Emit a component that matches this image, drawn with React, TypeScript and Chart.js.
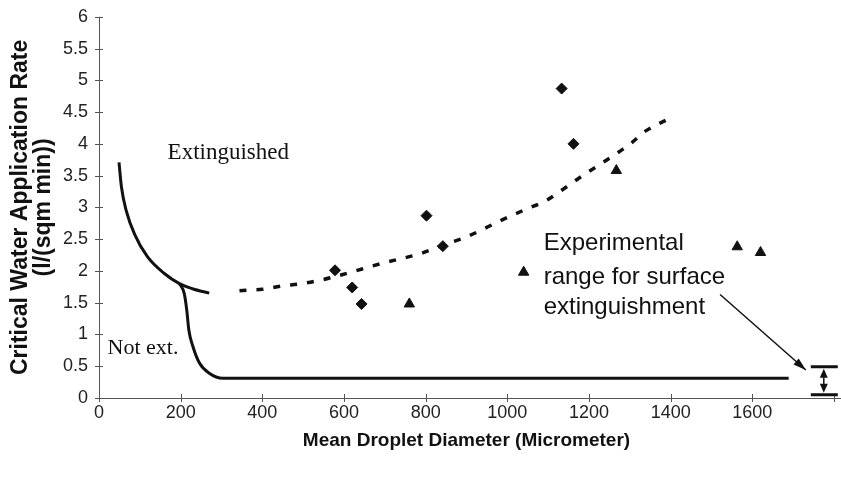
import React, { useEffect, useRef } from "react";
import { Chart, registerables } from "chart.js";

Chart.register(...registerables);

// Measured diamonds (extinguished)
const diamondX = [578, 620, 643, 802, 842, 1133, 1162];
const diamondY = [2.01, 1.74, 1.48, 2.87, 2.39, 4.87, 4.0];

// Measured triangles
const triangleX = [760, 1040, 1267, 1563, 1620];
const triangleY = [1.48, 1.98, 3.58, 2.38, 2.29];

// Upper solid boundary curve
const upperX = [49, 55, 67, 87, 119, 160, 197, 229, 270];
const upperY = [3.71, 3.32, 2.94, 2.58, 2.22, 1.96, 1.8, 1.72, 1.65];

// Lower solid boundary curve
const lowerX = [197, 209, 215, 220, 230, 246, 270, 303, 1000, 1689];
const lowerY = [1.8, 1.64, 1.38, 1.07, 0.81, 0.55, 0.39, 0.31, 0.31, 0.31];

// Dashed fit curve
const dashX = [344, 400, 446, 497, 546, 595, 693, 791, 839, 898, 986, 1045, 1093, 1142, 1191, 1235, 1277, 1303, 1338, 1394];
const dashY = [1.69, 1.71, 1.76, 1.8, 1.86, 1.94, 2.12, 2.28, 2.4, 2.53, 2.8, 2.97, 3.1, 3.31, 3.53, 3.71, 3.89, 4.01, 4.2, 4.39];

// Axis ticks
const xTicks = [0, 200, 400, 600, 800, 1000, 1200, 1400, 1600, 1800];
const yTicks = [0, 0.5, 1, 1.5, 2, 2.5, 3, 3.5, 4, 4.5, 5, 5.5, 6];

// Experimental range bar
const rangeX = 1775;
const rangeLow = 0.05;
const rangeHigh = 0.49;

const toPts = (xs: number[], ys: number[]) => xs.map((x, i) => ({ x, y: ys[i] }));

const SANS = "'Liberation Sans', Arial, sans-serif";
const SERIF = "'Liberation Serif', 'Times New Roman', serif";

const overlayPlugin = {
  id: "overlay",
  afterDraw(chart: any) {
    const { ctx, scales } = chart;
    const xs = scales.x;
    const ys = scales.y;
    const px = (v: number) => xs.getPixelForValue(v);
    const py = (v: number) => ys.getPixelForValue(v);
    ctx.save();
    // axes
    ctx.strokeStyle = "#555";
    ctx.lineWidth = 1;
    ctx.beginPath();
    ctx.moveTo(px(0), py(0) + 0.5);
    ctx.lineTo(chart.width, py(0) + 0.5);
    ctx.moveTo(px(0) + 0.5, py(0));
    ctx.lineTo(px(0) + 0.5, py(6));
    xTicks.forEach((t) => {
      const x = Math.round(px(t)) + 0.5;
      ctx.moveTo(x, py(0) - 4);
      ctx.lineTo(x, py(0) + 4);
    });
    yTicks.forEach((t) => {
      const y = Math.round(py(t)) + 0.5;
      ctx.moveTo(px(0) - 4, y);
      ctx.lineTo(px(0) + 4, y);
    });
    ctx.stroke();

    // text labels
    ctx.fillStyle = "#111";
    ctx.textBaseline = "middle";
    ctx.textAlign = "left";
    ctx.font = `23px ${SERIF}`;
    ctx.fillText("Extinguished", px(168), py(3.86));
    ctx.font = `22px ${SERIF}`;
    ctx.fillText("Not ext.", px(21), py(0.79));
    ctx.font = `24px ${SANS}`;
    ctx.fillText("Experimental", px(1089), py(2.43));
    ctx.fillText("range for surface", px(1089), py(1.9));
    ctx.fillText("extinguishment", px(1089), py(1.42));

    // arrow to range
    ctx.strokeStyle = "#111";
    ctx.lineWidth = 1.5;
    const ax0 = px(1521), ay0 = py(1.63), ax1 = px(1731), ay1 = py(0.44);
    ctx.beginPath();
    ctx.moveTo(ax0, ay0);
    ctx.lineTo(ax1, ay1);
    ctx.stroke();
    const ang = Math.atan2(ay1 - ay0, ax1 - ax0);
    const drawHead = (x: number, y: number, a: number, len: number, w: number) => {
      ctx.beginPath();
      ctx.moveTo(x, y);
      ctx.lineTo(x - len * Math.cos(a) + w * Math.sin(a), y - len * Math.sin(a) - w * Math.cos(a));
      ctx.lineTo(x - len * Math.cos(a) - w * Math.sin(a), y - len * Math.sin(a) + w * Math.cos(a));
      ctx.closePath();
      ctx.fill();
    };
    drawHead(ax1, ay1, ang, 13, 4);

    // range bar
    const rx = px(rangeX);
    const yt = py(rangeHigh), yb = py(rangeLow);
    ctx.lineWidth = 3;
    ctx.beginPath();
    ctx.moveTo(rx - 13, yt);
    ctx.lineTo(rx + 14, yt);
    ctx.moveTo(rx - 13, yb);
    ctx.lineTo(rx + 14, yb);
    ctx.stroke();
    ctx.lineWidth = 1.5;
    ctx.beginPath();
    ctx.moveTo(rx, yt + 8);
    ctx.lineTo(rx, yb - 8);
    ctx.stroke();
    drawHead(rx, yt + 2, -Math.PI / 2, 9, 4);
    drawHead(rx, yb - 2, Math.PI / 2, 9, 4);
    ctx.restore();
  },
};

export default function App() {
  const ref = useRef<HTMLCanvasElement | null>(null);
  useEffect(() => {
    document.body.style.margin = "0";
    if (!ref.current) return;
    const lineBase = {
      type: "scatter" as const,
      showLine: true,
      pointRadius: 0,
      borderColor: "#111",
      borderWidth: 3,
      cubicInterpolationMode: "monotone" as const,
      fill: false,
    };
    const chart = new Chart(ref.current, {
      type: "scatter",
      data: {
        datasets: [
          { ...lineBase, label: "upper", data: toPts(upperX, upperY) },
          { ...lineBase, label: "lower", data: toPts(lowerX, lowerY) },
          { ...lineBase, label: "fit", data: toPts(dashX, dashY), borderDash: [7, 10], borderWidth: 3.5 },
          {
            label: "diamonds",
            data: toPts(diamondX, diamondY),
            pointStyle: "rectRot",
            pointRadius: 5.5,
            backgroundColor: "#111",
            borderColor: "#111",
            borderWidth: 1,
          },
          {
            label: "triangles",
            data: toPts(triangleX, triangleY),
            pointStyle: "triangle",
            pointRadius: 6,
            backgroundColor: "#111",
            borderColor: "#111",
            borderWidth: 1,
          },
        ],
      },
      options: {
        animation: false,
        responsive: false,
        layout: { padding: { left: 0, right: 5, top: 15, bottom: 0 } },
        plugins: { legend: { display: false }, tooltip: { enabled: false } },
        scales: {
          x: {
            type: "linear",
            min: 0,
            max: 1800,
            afterBuildTicks: (s: any) => {
              s.ticks = xTicks.map((v) => ({ value: v }));
            },
            afterFit: (s: any) => {
              s.height = 83;
            },
            grid: { display: false, drawTicks: true, tickLength: 0 },
            border: { display: false },
            ticks: {
              color: "#222",
              font: { family: SANS, size: 18 },
              padding: 4,
              maxRotation: 0,
              autoSkip: false,
              callback: (v: any) => (v === 1800 ? "" : String(v)),
            },
            title: {
              display: true,
              text: "Mean Droplet Diameter (Micrometer)",
              color: "#111",
              font: { family: SANS, size: 19, weight: "bold" },
              padding: { top: 0, bottom: 29 },
            },
          },
          y: {
            type: "linear",
            min: 0,
            max: 6,
            afterBuildTicks: (s: any) => {
              s.ticks = yTicks.map((v) => ({ value: v }));
            },
            afterFit: (s: any) => {
              s.width = 99;
            },
            grid: { display: false, tickLength: 5 },
            border: { display: false },
            ticks: {
              color: "#222",
              font: { family: SANS, size: 18 },
              padding: 6,
              autoSkip: false,
              callback: (v: any) => String(v),
            },
            title: {
              display: true,
              text: ["Critical Water Application Rate", "(l/(sqm min))"],
              color: "#111",
              font: { family: SANS, size: 23, weight: "bold", lineHeight: 1.0 },
              padding: { top: 9.5, bottom: 0 },
            },
          },
        },
      },
      plugins: [overlayPlugin],
    } as any);
    return () => chart.destroy();
  }, []);
  return <canvas ref={ref} width={841} height={481} style={{ display: "block" }} />;
}
